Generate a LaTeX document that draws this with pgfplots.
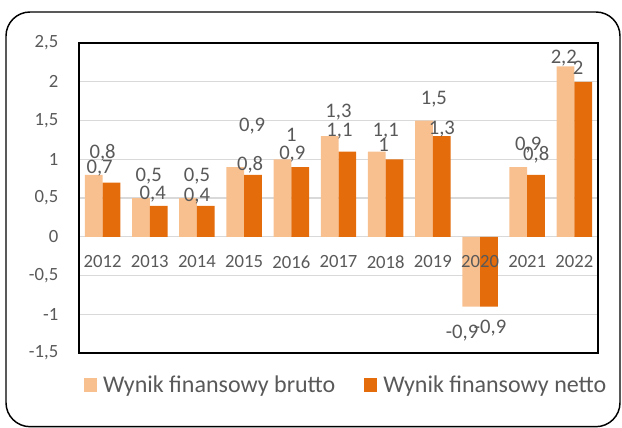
\documentclass[border=0pt]{standalone}
\usepackage{pgfplots}
\usepackage{pgfplotstable}
\pgfplotsset{compat=1.18}
\usepackage{fontspec}
\setmainfont{Carlito}
\definecolor{lightor}{HTML}{F9C08F}
\definecolor{darkor}{HTML}{E46C0A}
\definecolor{txt}{HTML}{595959}
\definecolor{gridc}{HTML}{D9D9D9}
\pgfplotstableread{
x y
0 0.8
1 0.5
2 0.5
3 0.9
4 1.0
5 1.3
6 1.1
7 1.5
8 -0.9
9 0.9
10 2.2
}\brutto
\pgfplotstableread{
x y
0 0.7
1 0.4
2 0.4
3 0.8
4 0.9
5 1.1
6 1.0
7 1.3
8 -0.9
9 0.8
10 2.0
}\netto
\pgfplotsset{
  frame/.style={
    at={(59.25pt,-264.75pt)}, anchor=south west,
    scale only axis, width=389.25pt, height=232.5pt,
    xmin=-0.5, xmax=10.5, ymin=-1.5, ymax=2.5,
    major tick length=0pt,
    tick label style={text=txt, font=\fontsize{14}{16}\selectfont},
    /pgf/number format/use comma,
    /pgf/number format/assume math mode=true,
  }
}
\begin{document}
\begin{tikzpicture}
\path[use as bounding box] (0pt,0pt) rectangle (466.5pt,-321pt);
\draw[line width=1.1pt, rounded corners=18pt] (4.5pt,-9pt) rectangle (465pt,-320pt);
\begin{axis}[
  frame,
  ybar, bar width=13.3pt,
  xtick={0,1,2,3,4,5,6,7,8,9,10},
  xticklabels={},
  ytick={-1.5,-1,-0.5,0,0.5,1,1.5,2,2.5},
  ymajorgrids, grid style={gridc, line width=0.9pt},
  axis line style={black, line width=1.1pt},
  yticklabel style={anchor=east, xshift=-12pt},
  legend style={at={(0.5,0)}, anchor=center, yshift=-24pt, xshift=5pt, draw=none, fill=none,
    font=\fontsize{18}{20}\selectfont, text=txt, legend columns=2,
    nodes={inner sep=0pt},
    /tikz/every odd column/.append style={column sep=4.5pt},
    /tikz/every even column/.append style={column sep=21.5pt}},
  legend image code/.code={\fill[#1] (0pt,-4.9pt) rectangle (9.9pt,5pt);},
  % label offsets from bar end, in reference pixels (x right, y up)
  lbl/.style 2 args={
    forget plot,
    nodes near coords,
    visualization depends on={value \coordindex\as\idx},
    every node near coord/.style={anchor=center, text=txt,
       font=\fontsize{15.5}{17}\selectfont, inner sep=0pt, text depth=0pt,
       xshift={{#1}[\idx]*0.75pt}, yshift={{#2}[\idx]*0.75pt}}},
]
\addplot[fill=lightor, draw=none, bar shift=-6.65pt,
  lbl={0,-1,0,8,0,0,0,1,-18,1,-10.6}{23,22.8,22.8,41.8,24.1,25.7,21.9,22.6,-25.3,22.8,9.2}]
  table[x=x, y=y] {\brutto};
\addplot[fill=darkor, draw=none, bar shift=6.65pt,
  lbl={-3,3,0,6,1,1,-2,9,10,9,3.7}{15.8,13.3,11,11.3,14.3,21.9,14.6,8.1,-20.3,21.8,14.2}]
  table[x=x, y=y] {\netto};
\addlegendimage{fill=lightor, draw=none}
\addlegendimage{fill=darkor, draw=none}
\legend{Wynik finansowy brutto, Wynik finansowy netto}
\end{axis}
% year labels on top of the bars, as in the reference
\begin{axis}[
  frame,
  axis line style={draw=none},
  ytick=\empty,
  xtick={0,1,2,3,4,5,6,7,8,9,10},
  xticklabels={2012,2013,2014,2015,2016,2017,2018,2019,2020,2021,2022},
  xticklabel style={anchor=center, yshift=68.25pt},
]
\end{axis}
\end{tikzpicture}
\end{document}
